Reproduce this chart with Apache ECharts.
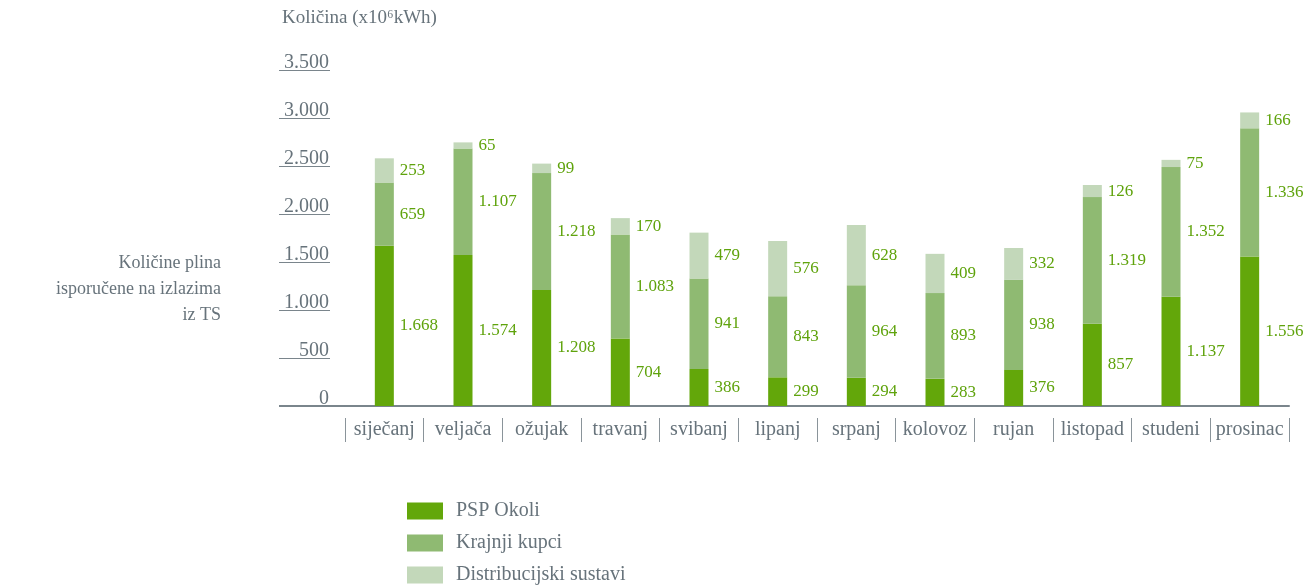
<!DOCTYPE html>
<html>
<head>
<meta charset="UTF-8">
<title>Količine plina</title>
<script src="https://cdn.jsdelivr.net/npm/echarts@6/dist/echarts.min.js"></script>
<style>
	body { margin: 0; background: #fff; }
	#main { width: 1312px; height: 588px; }
</style>
</head>
<body>
<div id="main"></div>
<script type="text/javascript">
	// podaci po mjesecima
	var months = ['siječanj', 'veljača', 'ožujak', 'travanj', 'svibanj', 'lipanj', 'srpanj', 'kolovoz', 'rujan', 'listopad', 'studeni', 'prosinac'];
	var pspOkoli = [1668, 1574, 1208, 704, 386, 299, 294, 283, 376, 857, 1137, 1556];
	var krajnjiKupci = [659, 1107, 1218, 1083, 941, 843, 964, 893, 938, 1319, 1352, 1336];
	var distribucijski = [253, 65, 99, 170, 479, 576, 628, 409, 332, 126, 75, 166];
	var yTicks = [0, 500, 1000, 1500, 2000, 2500, 3000, 3500];

	var font = 'Liberation Serif';
	var grey = '#67737b';
	var labelGreen = '#5fa30c';

	var gridLeft = 345, gridRight = 23, gridTop = 70, gridBottom = 182;
	var axisX = 279;

	function fmt(v) {
		return String(v).replace(/\B(?=(\d{3})+(?!\d))/g, '.');
	}

	var chart = echarts.init(document.getElementById('main'));

	function barSeries(name, data, color) {
		return {
			name: name,
			type: 'bar',
			stack: 'ukupno',
			barWidth: 19,
			data: data,
			itemStyle: { color: color },
			label: {
				show: true,
				position: 'right',
				distance: 6,
				color: labelGreen,
				fontFamily: font,
				fontSize: 17,
				formatter: function (p) { return fmt(p.value); }
			}
		};
	}

	var option = {
		animation: false,
		textStyle: { fontFamily: font },
		title: {
			text: 'Količina (x10⁶kWh)',
			left: 282,
			top: 9,
			padding: 0,
			textStyle: { fontFamily: font, fontSize: 19, fontWeight: 'normal', color: grey }
		},
		legend: {
			orient: 'vertical',
			left: 407,
			top: 501,
			height: 100,
			padding: 0,
			itemWidth: 36,
			itemHeight: 17,
			itemGap: 12,
			icon: 'rect',
			textStyle: { fontFamily: font, fontSize: 20, color: grey, padding: [0, 0, 0, 8] },
			data: ['PSP Okoli', 'Krajnji kupci', 'Distribucijski sustavi']
		},
		grid: { left: gridLeft, right: gridRight, top: gridTop, bottom: gridBottom },
		xAxis: [{
			type: 'category',
			data: months,
			axisLine: { lineStyle: { color: '#7a858c', width: 2 } },
			axisTick: { show: false },
			axisLabel: { interval: 0, margin: 14, fontFamily: font, fontSize: 20, color: grey }
		}, {
			type: 'category',
			data: months,
			position: 'bottom',
			offset: 12,
			axisLine: { show: false },
			axisTick: { show: true, interval: 0, length: 24, lineStyle: { color: '#8a949a', width: 1 } },
			axisLabel: { show: false }
		}],
		yAxis: {
			type: 'value',
			min: yTicks[0],
			max: yTicks[yTicks.length - 1],
			interval: 500,
			offset: gridLeft - axisX,
			axisLine: { show: false },
			splitLine: { show: false },
			axisTick: { show: true, inside: true, length: 51, lineStyle: { color: '#7a858c', width: 1 } },
			axisLabel: {
				inside: true,
				margin: 50,
				align: 'right',
				verticalAlign: 'bottom',
				lineHeight: 14,
				fontFamily: font,
				fontSize: 20,
				color: grey,
				formatter: function (v) { return fmt(v); }
			}
		},
		graphic: [{
			type: 'line',
			shape: { x1: axisX, y1: 588 - gridBottom, x2: gridLeft, y2: 588 - gridBottom },
			style: { stroke: '#7a858c', lineWidth: 2 }
		}, {
			type: 'text',
			x: 221,
			y: 250,
			style: {
				text: 'Količine plina\nisporučene na izlazima\niz TS',
				align: 'right',
				verticalAlign: 'top',
				font: '18px "' + font + '"',
				lineHeight: 26,
				fill: grey
			}
		}],
		series: [
			barSeries('PSP Okoli', pspOkoli, '#63a70a'),
			barSeries('Krajnji kupci', krajnjiKupci, '#8fba72'),
			barSeries('Distribucijski sustavi', distribucijski, '#c3d8ba')
		]
	};

	chart.setOption(option);
</script>
</body>
</html>
